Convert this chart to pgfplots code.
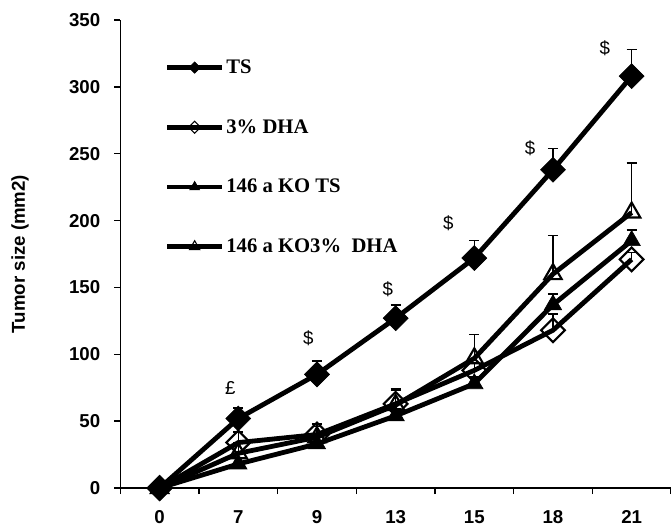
\documentclass[border=0pt]{standalone}
\usepackage{pgfplots}
\pgfplotsset{compat=1.18}
\usepackage{fontspec}
\setmainfont{Liberation Serif}
\newfontfamily\arial{Liberation Sans}
\begin{document}
\begin{tikzpicture}
\path[use as bounding box] (-90.2pt,-29.25pt) rectangle (413pt,366pt);
\begin{axis}[
  at={(0pt,0pt)}, anchor=south west,
  width=413pt, height=351pt, scale only axis,
  xmin=-0.5, xmax=6.5, ymin=0, ymax=350,
  axis lines*=left,
  axis line style={line width=1.1pt},
  xtick={-0.5,0.5,...,6.5},
  xticklabels={0,7,9,13,15,18,21},
  x tick label as interval,
  ytick={0,50,...,350},
  tick align=outside,
  major tick length=4.5pt,
  tick style={line width=1.1pt, black},
  /pgf/number format/assume math mode=true,
  tick label style={font=\arial\bfseries\fontsize{14}{16}\selectfont},
  xticklabel style={yshift=-9pt},
  yticklabel style={xshift=-7pt},
  ylabel={Tumor size (mm2)},
  ylabel style={font=\arial\bfseries\fontsize{14}{16}\selectfont, at={(axis description cs:-0.182,0.5)}, anchor=center},
  clip=false,
  legend style={at={(axis cs:0.064,322.5)}, anchor=north west, draw=none, fill=none,
     font=\bfseries\fontsize{15.5}{17}\selectfont, row sep=29pt, inner sep=0pt,
     nodes={inner xsep=1.5pt}},
  legend cell align=left,
  legend image code/.code={\draw[#1,mark repeat=2,mark phase=2] plot coordinates {(0pt,0pt) (20.5pt,0pt) (41pt,0pt)};},
  error bars/error bar style={line width=1.1pt, black},
  error bars/error mark options={rotate=90, mark size=3.8pt, line width=1.1pt, black},
]
% TS
\addplot[black, line width=3.6pt, mark=square*, mark size=6.6pt, mark options={rotate=45, fill=black, line width=0.5pt},
  legend image post style={mark size=3pt},
  error bars/.cd, y dir=plus, y explicit]
  coordinates {(0,0) +- (0,0) (1,52) +- (0,8) (2,85) +- (0,10) (3,127) +- (0,10) (4,172) +- (0,13) (5,238) +- (0,16) (6,308) +- (0,20)};
\addlegendentry{TS}
% 3% DHA
\addplot[black, line width=3.6pt, mark=square, mark size=6.3pt, mark options={rotate=45, fill=white, line width=1.6pt},
  legend image post style={mark size=3.2pt, every mark/.append style={line width=0.8pt}},
  error bars/.cd, y dir=plus, y explicit]
  coordinates {(0,0) +- (0,0) (1,34) +- (0,8) (2,40) +- (0,8) (3,63) +- (0,10) (4,88) +- (0,6) (5,118) +- (0,12) (6,171) +- (0,5)};
\addlegendentry{3\% DHA}
% 146 a KO TS
\addplot[black, line width=3.6pt, mark=triangle*, mark size=7.5pt, mark options={fill=black, line width=0.5pt},
  legend image post style={mark size=4.2pt},
  error bars/.cd, y dir=plus, y explicit]
  coordinates {(0,0) +- (0,0) (1,18) +- (0,4) (2,33) +- (0,5) (3,54) +- (0,5) (4,78) +- (0,5) (5,137) +- (0,8) (6,185) +- (0,8)};
\addlegendentry{146 a KO TS}
% 146 a KO3% DHA
\addplot[black, line width=3.6pt, mark=triangle, mark size=7.5pt, mark options={fill=white, line width=1.6pt},
  legend image post style={mark size=4.5pt, every mark/.append style={line width=0.8pt}},
  error bars/.cd, y dir=plus, y explicit]
  coordinates {(0,0) +- (0,0) (1,26) +- (0,8) (2,38) +- (0,8) (3,62) +- (0,12) (4,97) +- (0,18) (5,160) +- (0,29) (6,206) +- (0,37)};
\addlegendentry{146 a KO3\%\ \ DHA}
% annotations
\node[font=\arial\fontsize{14}{16}\selectfont] at (axis cs:0.9,75) {£};
\node[font=\arial\fontsize{14}{16}\selectfont] at (axis cs:1.89,112) {\$};
\node[font=\arial\fontsize{14}{16}\selectfont] at (axis cs:2.9,149) {\$};
\node[font=\arial\fontsize{14}{16}\selectfont] at (axis cs:3.67,198) {\$};
\node[font=\arial\fontsize{14}{16}\selectfont] at (axis cs:4.71,254) {\$};
\node[font=\arial\fontsize{14}{16}\selectfont] at (axis cs:5.66,329) {\$};
\end{axis}
\end{tikzpicture}
\end{document}
